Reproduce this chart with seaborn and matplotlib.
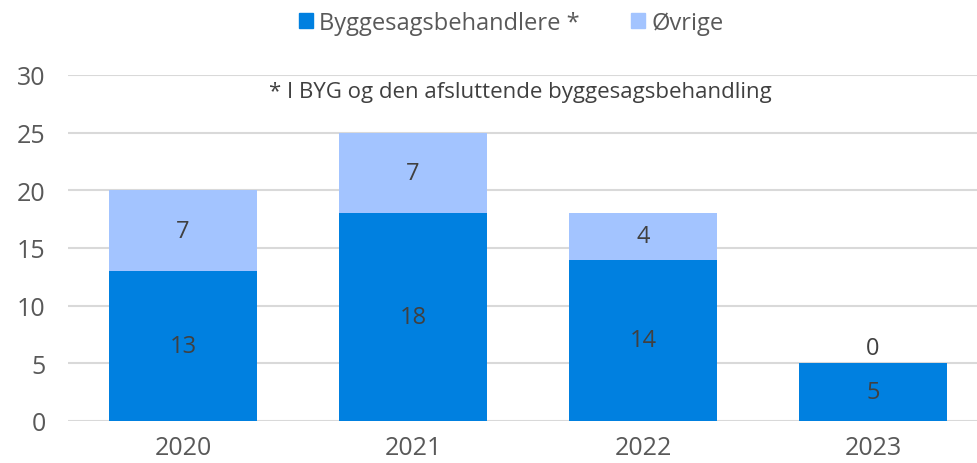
import pandas as pd
import matplotlib.pyplot as plt
import seaborn as sns
from matplotlib.patches import Patch

# Data
years = ['2020', '2021', '2022', '2023']
byggesag = [13, 18, 14, 5]
ovrige = [7, 7, 4, 0]

df = pd.DataFrame({'År': years, 'Byggesagsbehandlere *': byggesag, 'Øvrige': ovrige})
df['Total'] = df['Byggesagsbehandlere *'] + df['Øvrige']

dark_blue = '#0080E0'
light_blue = '#A3C4FF'
text_col = '#404040'
tick_col = '#595959'

sns.set_theme(style='white')
plt.rcParams['font.family'] = ['Open Sans', 'DejaVu Sans']

fig = plt.figure(figsize=(9.77, 4.64), dpi=100)
# axes spans y=0 (px 422) to y=30 (px 76)
ax = fig.add_axes([68 / 977, (464 - 422) / 464, 909 / 977, 346 / 464])

# Stacked bars: total first (light), base on top (dark)
sns.barplot(data=df, x='År', y='Total', color=light_blue, width=0.643,
            saturation=1, linewidth=0, ax=ax, zorder=2)
sns.barplot(data=df, x='År', y='Byggesagsbehandlere *', color=dark_blue, width=0.643,
            saturation=1, linewidth=0, ax=ax, zorder=3)

# Value labels
for i in range(len(years)):
    b = byggesag[i]
    o = ovrige[i]
    ax.text(i, b / 2, str(b), ha='center', va='center', fontsize=17, color=text_col, zorder=4)
    if o > 0:
        ax.text(i, b + o / 2, str(o), ha='center', va='center', fontsize=17, color=text_col, zorder=4)
    else:
        ax.text(i, b + 1.3, str(o), ha='center', va='center', fontsize=17, color=text_col, zorder=4)

ax.set_ylim(0, 30)
ax.set_xlim(-0.5, 3.452)
ax.set_yticks(range(0, 31, 5))
ax.yaxis.grid(True, color='#D9D9D9', linewidth=1.5, zorder=0)
ax.set_axisbelow(True)
for s in ax.spines.values():
    s.set_visible(False)
ax.set_xlabel('')
ax.set_ylabel('')
ax.tick_params(axis='both', length=0, labelsize=18, labelcolor=tick_col)
ax.tick_params(axis='x', pad=10)
ax.tick_params(axis='y', pad=16)

ax.text(1.465, 28.6, '* I BYG og den afsluttende byggesagsbehandling',
        ha='center', va='center', fontsize=16, color=text_col)

handles = [Patch(color=dark_blue, label='Byggesagsbehandlere *'),
           Patch(color=light_blue, label='Øvrige')]
fig.legend(handles=handles, loc='center', bbox_to_anchor=(511 / 977, 1 - 24 / 464),
           ncol=2, frameon=False, fontsize=17, handlelength=0.6, handleheight=0.6,
           handletextpad=0.25, columnspacing=2.2, labelcolor=tick_col)

plt.savefig('out.png', dpi=100)
